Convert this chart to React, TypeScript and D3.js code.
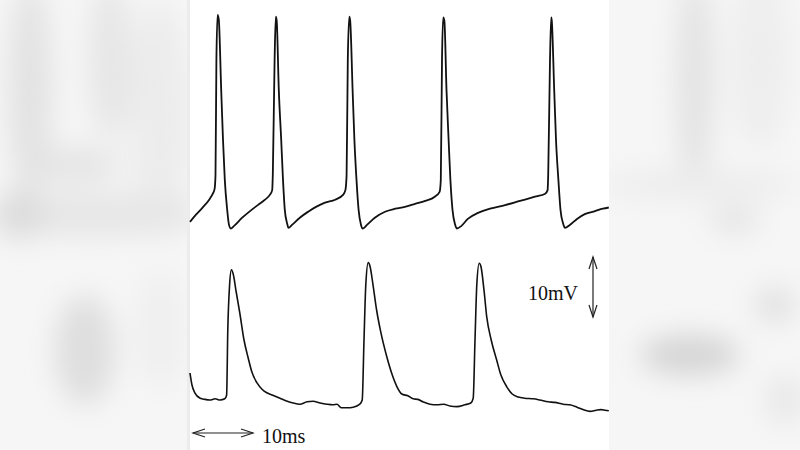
import * as d3 from "d3";

const WIDTH = 800;
const HEIGHT = 450;
const PANEL = { left: 190, right: 609 };

// [time ms, membrane potential mV]
const spikingTrace: [number, number][] = [
  [0, 1.1], [1.0, 2.3], [2.2, 3.6], [3.2, 4.8], [3.8, 5.8], [4.1, 6.6], [4.25, 8.9],
  [4.4, 28.1], [4.6, 35.6], [4.8, 34.8], [5.2, 23.1], [5.5, 14.8], [5.8, 8.1],
  [6.2, 3.1], [6.5, 0.6], [6.8, 0], [7.3, 0.4], [8.7, 1.8], [10, 2.9], [11.3, 3.9],
  [12.5, 4.8], [13.3, 5.6], [13.7, 6.4], [13.8, 8.9], [14.1, 28.1], [14.3, 35.3],
  [14.45, 34.6], [14.8, 23.1], [15.2, 14.8], [15.5, 8.1], [15.8, 3.1], [16.2, 0.8],
  [16.4, 0.1], [17, 0.6], [18.3, 1.8], [19.7, 2.8], [21, 3.6], [22.5, 4.3],
  [24.2, 4.8], [25.5, 5.6], [25.9, 6.4], [26.1, 8.9], [26.3, 28.1], [26.55, 35.3],
  [26.7, 34.6], [27.1, 23.1], [27.4, 14.8], [27.75, 8.1], [28.1, 3.1], [28.5, 0.6],
  [28.8, 0], [29.5, 0.6], [30.8, 1.8], [32.5, 2.8], [34.2, 3.3], [35.8, 3.6],
  [37.5, 4.1], [39.2, 4.6], [40.8, 5.3], [41.6, 6.1], [41.8, 8.1], [42.0, 28.1],
  [42.2, 35.2], [42.4, 34.6], [42.75, 23.1], [43.1, 14.8], [43.4, 8.1], [43.75, 3.1],
  [44.2, 0.6], [44.45, 0], [45.2, 0.4], [46.3, 1.6], [48, 2.6], [50, 3.3],
  [52.5, 3.9], [55, 4.6], [57.5, 5.3], [59.2, 5.8], [59.6, 6.4], [59.7, 8.9],
  [60.0, 28.1], [60.2, 35.2], [60.3, 34.6], [60.7, 23.1], [61.0, 14.8], [61.4, 8.1],
  [61.75, 3.1], [62.2, 0.8], [62.5, 0.1], [63.3, 0.6], [64.5, 1.6], [65.8, 2.4],
  [67.5, 2.9], [68.8, 3.3], [69.8, 3.5],
];

const epspTrace: [number, number][] = [
  [0, 6.5], [0.33, 4.5], [0.8, 3.2], [1.7, 2.3], [2.5, 2.1], [3.3, 2.0], [4.2, 2.2],
  [5.0, 2.0], [5.8, 2.2], [6.1, 2.8], [6.3, 13.7], [6.6, 21.2], [6.9, 23.7],
  [7.2, 23.0], [7.7, 20.0], [8.3, 16.5], [9.0, 12.0], [9.7, 9.0], [10.3, 6.7],
  [11.2, 4.8], [12.0, 3.8], [12.8, 3.2], [13.8, 2.8], [15.0, 2.3], [16.2, 1.8],
  [17.2, 1.5], [18.3, 1.3], [19.5, 1.7], [20.5, 1.8], [21.7, 1.5], [22.8, 1.3],
  [23.8, 1.2], [24.5, 1.3], [25.2, 0.7], [26.2, 0.7], [27.2, 0.8], [28.3, 1.3],
  [28.7, 2.0], [29.0, 12.0], [29.3, 21.2], [29.7, 24.9], [30.0, 24.3], [30.5, 21.2],
  [31.1, 17.0], [31.8, 13.3], [32.8, 9.2], [33.7, 6.2], [34.5, 4.2], [35.3, 3.0],
  [36.3, 2.7], [37.2, 2.2], [38.0, 2.1], [38.8, 1.7], [40.0, 1.3], [41.2, 1.2],
  [42.3, 1.3], [43.3, 1.0], [44.5, 0.9], [45.8, 1.2], [46.8, 1.5], [47.2, 2.3],
  [47.5, 12.0], [47.8, 21.2], [48.2, 24.8], [48.5, 24.2], [49.0, 20.3], [49.45, 15.9],
  [50.2, 12.0], [51.1, 8.7], [51.8, 6.2], [52.8, 4.2], [53.7, 3.0], [54.7, 2.5],
  [55.8, 2.3], [57.2, 2.2], [58.3, 2.0], [59.7, 1.7], [60.8, 1.6], [62.2, 1.3],
  [63.3, 1.2], [64.5, 0.8], [65.5, 0.4], [66.7, 0.1], [67.7, 0.3], [68.5, 0.4],
  [69.2, 0.3], [69.8, 0.2],
];

const timeBar = 10; // ms
const voltBar = 10; // mV
const timeLabel = "10ms";
const voltLabel = "10mV";

// blurred background blobs on the sides: [cx, cy, rx, ry, grey]
const blobs: [number, number, number, number, string][] = [
  [30, 90, 22, 110, "#e2e2e2"],
  [110, 60, 22, 80, "#e6e6e6"],
  [160, 120, 30, 120, "#ececec"],
  [75, 165, 45, 18, "#e4e4e4"],
  [95, 215, 110, 22, "#e6e6e6"],
  [20, 215, 25, 25, "#dcdcdc"],
  [85, 350, 30, 55, "#dedede"],
  [160, 330, 25, 60, "#efefef"],
  [695, 80, 18, 110, "#e2e2e2"],
  [760, 60, 30, 90, "#eeeeee"],
  [700, 185, 100, 15, "#ececec"],
  [735, 220, 25, 12, "#e2e2e2"],
  [690, 355, 50, 20, "#d4d4d4"],
  [775, 305, 20, 18, "#e0e0e0"],
  [785, 400, 20, 25, "#e8e8e8"],
];

const xScale = d3.scaleLinear().domain([0, 70]).range([PANEL.left, PANEL.left + 420]);
const yTop = d3.scaleLinear().domain([0, 36]).range([228.5, 12.5]);
const yBottom = d3.scaleLinear().domain([0, 25]).range([412, 262]);

const topLine = d3
  .line<[number, number]>()
  .x((d) => xScale(d[0]))
  .y((d) => yTop(d[1]))
  .curve(d3.curveMonotoneX);

const bottomLine = d3
  .line<[number, number]>()
  .x((d) => xScale(d[0]))
  .y((d) => yBottom(d[1]))
  .curve(d3.curveMonotoneX);

const App = () => {
  const hLen = xScale(timeBar) - xScale(0);
  const vLen = yBottom(0) - yBottom(voltBar);
  const hx = 193;
  const hy = 433;
  const vx = 593;
  const vy = 257;
  const head = 12;
  const spread = 4;

  return (
    <svg
      width={WIDTH}
      height={HEIGHT}
      style={{ position: "absolute", left: 0, top: 0, display: "block" }}
    >
      <defs>
        <filter id="blur" x="-50%" y="-50%" width="200%" height="200%">
          <feGaussianBlur stdDeviation="14" />
        </filter>
      </defs>
      <rect width={WIDTH} height={HEIGHT} fill="#f6f6f6" />
      <g filter="url(#blur)">
        {blobs.map(([cx, cy, rx, ry, c], i) => (
          <ellipse key={i} cx={cx} cy={cy} rx={rx} ry={ry} fill={c} />
        ))}
      </g>
      <rect x={PANEL.left - 3} y={0} width={3} height={HEIGHT} fill="#ececec" />
      <rect x={PANEL.left} y={0} width={PANEL.right - PANEL.left} height={HEIGHT} fill="#ffffff" />

      <path d={topLine(spikingTrace) ?? ""} fill="none" stroke="#111" strokeWidth={1.8} strokeLinejoin="round" />
      <path d={bottomLine(epspTrace) ?? ""} fill="none" stroke="#111" strokeWidth={1.6} strokeLinejoin="round" />

      {/* time scale bar */}
      <g stroke="#222" strokeWidth={1.2} fill="none">
        <line x1={hx} y1={hy} x2={hx + hLen} y2={hy} />
        <polyline points={`${hx + head},${hy - spread} ${hx},${hy} ${hx + head},${hy + spread}`} />
        <polyline
          points={`${hx + hLen - head},${hy - spread} ${hx + hLen},${hy} ${hx + hLen - head},${hy + spread}`}
        />
      </g>
      <text x={262} y={443} fontFamily="'Liberation Serif', 'Times New Roman', serif" fontSize={20} fill="#111">
        {timeLabel}
      </text>

      {/* voltage scale bar */}
      <g stroke="#222" strokeWidth={1.2} fill="none">
        <line x1={vx} y1={vy} x2={vx} y2={vy + vLen} />
        <polyline points={`${vx - spread},${vy + head} ${vx},${vy} ${vx + spread},${vy + head}`} />
        <polyline
          points={`${vx - spread},${vy + vLen - head} ${vx},${vy + vLen} ${vx + spread},${vy + vLen - head}`}
        />
      </g>
      <text x={528} y={300} fontFamily="'Liberation Serif', 'Times New Roman', serif" fontSize={20} fill="#111">
        {voltLabel}
      </text>
    </svg>
  );
};

export default App;
